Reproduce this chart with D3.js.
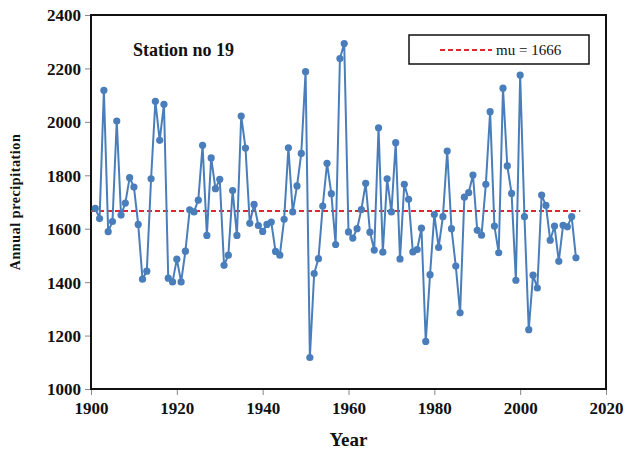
<!DOCTYPE html>
<html>
<head>
<meta charset="utf-8">
<script src="https://cdn.jsdelivr.net/npm/d3@7"></script>
<style>
    body { margin: 0; background: #fff; }
    svg text { font-family: "Liberation Serif", "Times New Roman", serif; }
</style>
</head>
<body>
<div id="chart"></div>
<script>
(function () {
    "use strict";

    // annual precipitation, station no 19
    var years = d3.range(1901, 2014);
    var precip = [
        1676, 1638, 2118, 1589, 1627, 2003, 1651, 1696, 1791, 1756,
        1616, 1411, 1441, 1787, 2077, 1931, 2066, 1415, 1401, 1486,
        1401, 1516, 1671, 1663, 1707, 1912, 1575, 1865, 1750, 1785,
        1463, 1501, 1743, 1575, 2022, 1902, 1620, 1691, 1612, 1590,
        1616, 1625, 1515, 1501, 1635, 1903, 1663, 1760, 1882, 2188,
        1118, 1432, 1488, 1685, 1845, 1731, 1541, 2237, 2293, 1588,
        1565, 1600, 1672, 1770, 1587, 1520, 1978, 1512, 1787, 1663,
        1922, 1487, 1766, 1710, 1513, 1522, 1602, 1178, 1428, 1653,
        1530, 1645, 1891, 1600, 1460, 1285, 1718, 1735, 1801, 1594,
        1576, 1766, 2038, 1610, 1510, 2126, 1835, 1732, 1407, 2175,
        1645, 1222, 1426, 1378, 1726, 1687, 1557, 1610, 1478, 1613,
        1607, 1645, 1491
    ];
    var mu = 1666;
    var muRange = [1900, 2014];

    var xTicks = [1900, 1920, 1940, 1960, 1980, 2000, 2020];
    var yTicks = [1000, 1200, 1400, 1600, 1800, 2000, 2200, 2400];

    var W = 626, H = 453;
    var left = 91, right = 606, top = 15, bottom = 389;

    var svg = d3.select("#chart").append("svg")
        .attr("width", W)
        .attr("height", H);

    var x = d3.scaleLinear().domain([1900, 2020]).range([left, right]);
    var y = d3.scaleLinear().domain([1000, 2400]).range([bottom, top]);

    //axes
    var yAxis = svg.append("g")
        .attr("transform", "translate(" + left + ",0)")
        .call(d3.axisLeft(y).tickValues(yTicks).tickSize(6).tickPadding(4).tickFormat(d3.format("d")));

    var xAxis = svg.append("g")
        .attr("transform", "translate(0," + bottom + ")")
        .call(d3.axisBottom(x).tickValues(xTicks).tickSize(6).tickPadding(7).tickFormat(d3.format("d")));

    [xAxis, yAxis].forEach(function (g) {
        g.select(".domain").remove();
        g.selectAll(".tick line").attr("stroke", "#888").attr("stroke-width", 1);
        g.selectAll(".tick text")
            .attr("fill", "#111")
            .style("font-size", "17px")
            .style("font-weight", "bold");
    });
    yAxis.selectAll(".tick text").attr("dy", "0.35em");

    // plot frame
    svg.append("rect")
        .attr("x", left)
        .attr("y", top)
        .attr("width", right - left)
        .attr("height", bottom - top)
        .attr("fill", "none")
        .attr("stroke", "#111")
        .attr("stroke-width", 2);

    // mean line
    svg.append("line")
        .attr("x1", x(muRange[0]))
        .attr("x2", x(muRange[1]))
        .attr("y1", y(mu))
        .attr("y2", y(mu))
        .attr("stroke", "#e0262e")
        .attr("stroke-width", 2)
        .attr("stroke-dasharray", "5,3");

    var line = d3.line()
        .x(function (d, i) { return x(years[i]); })
        .y(function (d) { return y(d); });

    svg.append("path")
        .datum(precip)
        .attr("d", line)
        .attr("fill", "none")
        .attr("stroke", "#4a7ebb")
        .attr("stroke-width", 2);

    svg.selectAll("circle.pt")
        .data(precip)
        .enter()
        .append("circle")
        .attr("class", "pt")
        .attr("cx", function (d, i) { return x(years[i]); })
        .attr("cy", function (d) { return y(d); })
        .attr("r", 3.6)
        .attr("fill", "#4a7ebb");

    // station label
    svg.append("text")
        .attr("x", 133)
        .attr("y", 56)
        .style("font-size", "18px")
        .style("font-weight", "bold")
        .attr("fill", "#111")
        .text("Station no 19");

    // legend
    var lg = svg.append("g");
    lg.append("rect")
        .attr("x", 409)
        .attr("y", 35)
        .attr("width", 180)
        .attr("height", 29)
        .attr("fill", "#fff")
        .attr("stroke", "#111")
        .attr("stroke-width", 1.5);
    lg.append("line")
        .attr("x1", 440)
        .attr("x2", 492)
        .attr("y1", 50)
        .attr("y2", 50)
        .attr("stroke", "#e0262e")
        .attr("stroke-width", 2)
        .attr("stroke-dasharray", "5,3");
    lg.append("text")
        .attr("x", 496)
        .attr("y", 55)
        .style("font-size", "15px")
        .attr("fill", "#111")
        .text("mu = " + mu);

    // axis titles
    svg.append("text")
        .attr("x", (left + right) / 2)
        .attr("y", 446)
        .attr("text-anchor", "middle")
        .style("font-size", "19px")
        .style("font-weight", "bold")
        .attr("fill", "#111")
        .text("Year");

    svg.append("text")
        .attr("transform", "translate(20," + ((top + bottom) / 2) + ") rotate(-90)")
        .attr("text-anchor", "middle")
        .style("font-size", "14px")
        .style("font-weight", "bold")
        .style("letter-spacing", "0.6px")
        .attr("fill", "#111")
        .text("Annual precipitation");
})();
</script>
</body>
</html>
